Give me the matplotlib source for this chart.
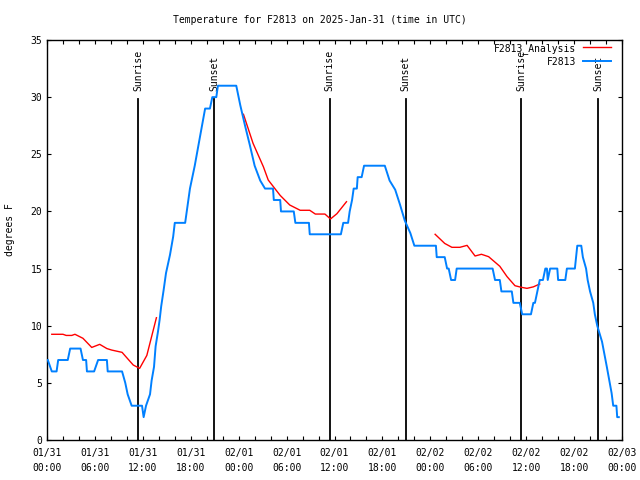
import numpy as np
import matplotlib
matplotlib.use("agg")
import matplotlib.pyplot as plt
from matplotlib.ticker import MultipleLocator

# hours since 01/31 00:00 UTC
obs_hours = [0.1, 0.6, 1.2, 1.4, 2.6, 2.9, 4.2, 4.5, 4.9, 5.0, 5.9, 6.4, 7.5, 7.6,
             9.4, 9.8, 10.1, 10.6, 11.9, 12.1, 12.4, 12.9, 13.1, 13.4, 13.6, 13.9,
             14.1, 14.3, 14.6, 14.9, 15.4, 15.8, 16.0, 17.3, 17.9, 18.5, 19.2, 19.8,
             20.4, 20.7, 21.2, 21.4, 23.7, 24.2, 24.8, 25.4, 26.0, 26.7, 27.3, 28.3,
             28.4, 29.2, 29.3, 30.9, 31.1, 32.8, 32.9, 36.8, 37.1, 37.7, 37.9, 38.2,
             38.4, 38.8, 38.9, 39.4, 39.7, 42.3, 42.9, 43.6, 44.2, 44.8, 45.5, 46.0,
             48.7, 48.8, 49.8, 50.1, 50.3, 50.6, 51.1, 51.3, 55.8, 56.1, 56.7, 56.9,
             58.2, 58.4, 59.2, 59.5, 60.6, 60.9, 61.1, 61.4, 61.7, 62.1, 62.4, 62.6,
             62.7, 63.0, 63.9, 64.0, 64.9, 65.1, 66.1, 66.4, 66.9, 67.1, 67.5, 67.7,
             68.0, 68.4, 68.6, 68.9, 69.5, 70.1, 70.7, 70.9, 71.3, 71.4, 71.6]
obs_temp = [7, 6, 6, 7, 7, 8, 8, 7, 7, 6, 6, 7, 7, 6,
            6, 5, 4, 3, 3, 2, 3, 4, 5.2, 6.4, 8.2, 9.5,
            10.5, 11.7, 13.1, 14.6, 16.2, 17.8, 19, 19, 22, 24, 26.7, 29,
            29, 30, 30, 31, 31, 29.3, 27.5, 25.8, 24, 22.7, 22, 22,
            21, 21, 20, 20, 19, 19, 18, 18, 19, 19, 20, 21,
            22, 22, 23, 23, 24, 24, 22.7, 21.9, 20.6, 19.2, 18.1, 17,
            17, 16, 16, 15, 15, 14, 14, 15, 15, 14, 14, 13,
            13, 12, 12, 11, 11, 12, 12, 13, 14, 14, 15, 15,
            14, 15, 15, 14, 14, 15, 15, 17, 17, 16, 15, 14,
            13, 12, 11, 10, 8.6, 6.4, 4.1, 3, 3, 2, 2]

# analysis, nan marks gaps between runs
ana_hours = [0.6, 2.0, 2.4, 3.1, 3.5, 4.5, 5.6, 6.6, 7.5, 8.1, 9.4, 9.8, 10.8, 11.6, 12.5, 13.7,
             np.nan,
             24.6, 25.8, 27.1, 27.7, 29.2, 30.4, 31.7, 32.9, 33.6, 34.8, 35.5, 36.3, 37.5,
             np.nan,
             48.6, 49.8, 50.7, 51.7, 52.6, 53.6, 54.4, 55.3, 56.7, 57.6, 58.6, 59.4, 60.1, 60.9, 61.7]
ana_temp = [9.25, 9.25, 9.15, 9.15, 9.25, 8.9, 8.1, 8.37, 8.0, 7.87, 7.67, 7.35, 6.56, 6.27, 7.4, 10.7,
            np.nan,
            28.5, 25.96, 23.9, 22.75, 21.4, 20.56, 20.1, 20.1, 19.77, 19.77, 19.34, 19.8, 20.85,
            np.nan,
            18.0, 17.2, 16.86, 16.86, 17.03, 16.1, 16.25, 16.04, 15.2, 14.3, 13.5, 13.36, 13.27, 13.4, 13.65]

event_hours = [11.4, 20.9, 35.4, 44.9, 59.35, 69.0]
event_names = ["Sunrise", "Sunset", "Sunrise", "Sunset", "Sunrise", "Sunset"]

tick_hours = list(range(0, 73, 6))
tick_labels = ["01/31\n00:00", "01/31\n06:00", "01/31\n12:00", "01/31\n18:00",
               "02/01\n00:00", "02/01\n06:00", "02/01\n12:00", "02/01\n18:00",
               "02/02\n00:00", "02/02\n06:00", "02/02\n12:00", "02/02\n18:00",
               "02/03\n00:00"]

plt.rcParams['font.family'] = ['DejaVu Sans Mono']
fs = 7

fig = plt.figure(figsize=(6.4, 4.8), dpi=100)
axe = fig.add_axes([47/640, 40/480, 575/640, 400/480])

# sunrise / sunset markers
for h, name in zip(event_hours, event_names):
    axe.plot([h, h], [0, 29.8], color="black", lw=1.3, zorder=2)
    axe.text(h, 30.5, name, rotation=90, ha="center", va="bottom", fontsize=fs)

axe.plot(ana_hours, ana_temp, color="#ff0000", lw=1.0, label="F2813_Analysis", zorder=3)
axe.plot(obs_hours, obs_temp, color="#0080ff", lw=1.4, label="F2813", zorder=3)

axe.set_xlim(0, 72)
axe.set_ylim(0, 35)
axe.set_xticks(tick_hours)
axe.set_xticklabels(tick_labels, fontsize=fs, linespacing=1.6)
axe.xaxis.set_minor_locator(MultipleLocator(2))
axe.yaxis.set_major_locator(MultipleLocator(5))
axe.tick_params(axis="both", which="both", direction="in", top=True, right=True,
                length=3, width=0.8, labelsize=fs)
axe.tick_params(axis="x", which="major", pad=6)
for s in axe.spines.values():
    s.set_linewidth(1.0)

fig.text(10/640, 1 - 230/480, "degrees F", rotation=90, ha="center", va="center", fontsize=fs)
fig.text(0.5, 1 - 20/480, "Temperature for F2813 on 2025-Jan-31 (time in UTC)",
         ha="center", va="center", fontsize=fs)

axe.legend(loc="upper right", bbox_to_anchor=(1 - 6/575, 1 + 2/400),
           markerfirst=False, frameon=False, fontsize=fs,
           handlelength=2.9, handletextpad=0.7, borderaxespad=0.1, labelspacing=0.3)

fig.savefig("out.png", dpi=100)
